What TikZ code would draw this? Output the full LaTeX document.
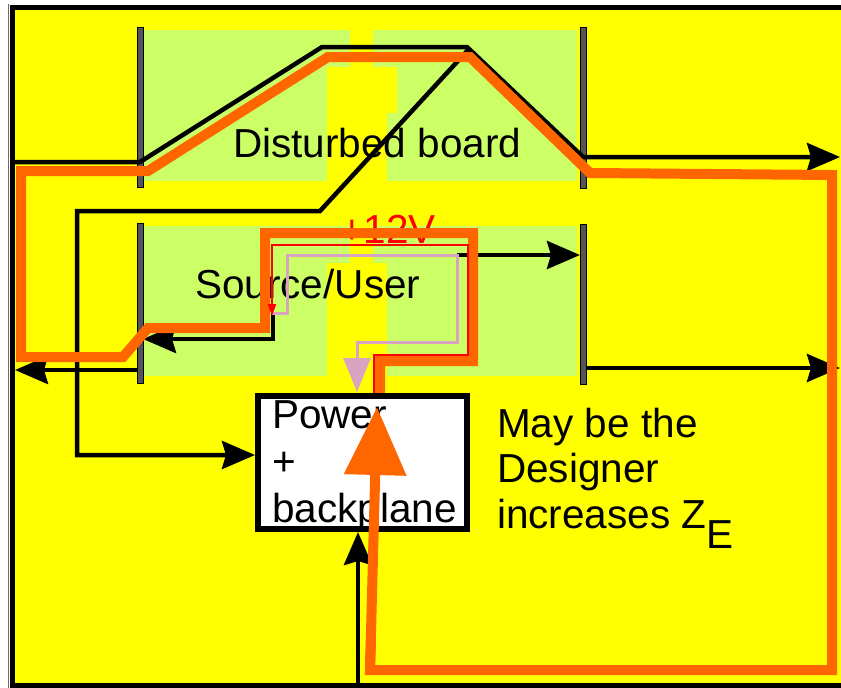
\documentclass[tikz,border=0pt]{standalone}
\usepackage{fontspec}
\setmainfont{Liberation Sans}
\usetikzlibrary{arrows.meta}
\definecolor{yel}{HTML}{FFFF00}
\definecolor{grn}{HTML}{CCFF66}
\definecolor{org}{HTML}{FF6600}
\definecolor{pnk}{HTML}{D9A3C2}
\definecolor{bargrey}{HTML}{555555}
\definecolor{edgeline}{HTML}{8A5A70}
\newcommand\bigfont{\fontsize{40.5}{47}\selectfont}
\begin{document}
\begin{tikzpicture}[x=1pt,y=-1pt,
  wire/.style={line width=4.5pt, line join=miter},
  blk/.style={wire, -{Stealth[length=33pt,width=28pt,inset=4pt]}},
  txt/.style={inner sep=0pt, anchor=base west, font=\bigfont},
  bar/.style={fill=bargrey, draw=black, line width=1pt},
  orangeline/.style={draw=org, line width=10pt, line join=miter},
  pinkline/.style={draw=pnk, line width=3pt, line join=miter},
  redline/.style={draw=red, line width=2pt, line join=miter},
  pbox/.style={draw=black, line width=6pt, fill=white, minimum width=209pt, minimum height=133pt, inner sep=0pt}
]
\useasboundingbox (0,0) rectangle (841,688);
\fill[white] (0,0) rectangle (841,688);
% frame
\draw[line width=5pt, fill=yel] (12.5,7.5) rectangle (870,685.5);
\draw[edgeline, line width=1pt] (8,4) -- (8,688);
% boards
\fill[grn] (143,30) rectangle (577,181);
\fill[yel] (350,30) rectangle (373,67);
\fill[yel] (327,67) rectangle (397,113);
\fill[yel] (327,113) rectangle (387,181);
\fill[grn] (143,226) rectangle (577,376);
\fill[yel] (350,226) rectangle (373,263);
\fill[yel] (327,263) rectangle (387,376);
% bars
\draw[bar] (137,27) rectangle (143,187);
\draw[bar] (137,223) rectangle (143,383);
\draw[bar] (580,27) rectangle (586,188);
\draw[bar] (580,224) rectangle (586,384);
% texts
\node[txt] (dist) at (233,157) {Disturbed board};
\node[txt] (src) at (195,298) {Source/User};
\node[txt, text=red] (v12) at (340,243) {+12V};
\node[txt] (m1) at (497,437) {May be the};
\node[txt] (m2) at (497,482) {Designer};
\node[txt] (m3) at (497,528) {increases Z\raisebox{-20pt}{E}};
% power box left entry point
\coordinate (pbw) at (255,455);
% black wires
\coordinate (a0) at (15,162);
\coordinate (a1) at (140,162);
\coordinate (a2) at (322,47);
\coordinate (a3) at (467,47);
\coordinate (a4) at (583,157);
\coordinate (a5) at (840,157);
\draw[blk] (a0) -- (a1) -- (a2) -- (a3) -- (a4) -- (a5);
\coordinate (b0) at (468,50);
\coordinate (b1) at (320,211);
\coordinate (b2) at (77,211);
\coordinate (b3) at (77,455);
\draw[blk] (b0) -- (b1) -- (b2) -- (b3) -- (pbw);
\coordinate (c0) at (273,313);
\coordinate (c1) at (273,339);
\coordinate (c2) at (143,339);
\draw[blk] (c0) -- (c1) -- (c2);
\coordinate (d0) at (457,255);
\coordinate (d1) at (580,255);
\draw[blk] (d0) -- (d1);
\coordinate (e0) at (137,370);
\coordinate (e1) at (15,370);
\draw[blk] (e0) -- (e1);
\coordinate (f0) at (586,368);
\coordinate (f1) at (840,368);
\draw[blk] (f0) -- (f1);
% orange loop
\draw[orangeline] (380,400) -- (380,361) -- (473,361) -- (473,233) -- (265,233) -- (265,328) -- (148,328) -- (123,357) -- (21,357) -- (21,171) -- (148,171) -- (328,57) -- (470,57) -- (590,173) -- (832,175) -- (832,670) -- (370,670) -- (371,640);
% pink and red
\draw[pinkline, -{Triangle[length=34pt,width=27pt]}] (272,313) -- (287,313) -- (287,255) -- (457,255) -- (457,342) -- (357,342) -- (357,392);
\draw[redline, -{Triangle[length=12pt,width=8pt]}] (374,396) -- (374,355) -- (468,355) -- (468,245) -- (272,245) -- (272,316);
% power box
\node[pbox] (pb) at (362.5,462.5) {};
\node[txt] (p1) at (272,428) {Power};
\node[txt] (p2) at (272,475) {+};
\node[txt] (p3) at (272,522) {backplane};
\coordinate (g0) at (358,688);
\draw[blk] (g0) -- (g0 |- pb.south);
% big orange arrow
\coordinate (h0) at (370,670);
\coordinate (h1) at (377,407);
\draw[draw=org, line width=10pt, -{Triangle[length=68pt,width=60pt]}, org] (h0) -- (h1);
\end{tikzpicture}
\end{document}
